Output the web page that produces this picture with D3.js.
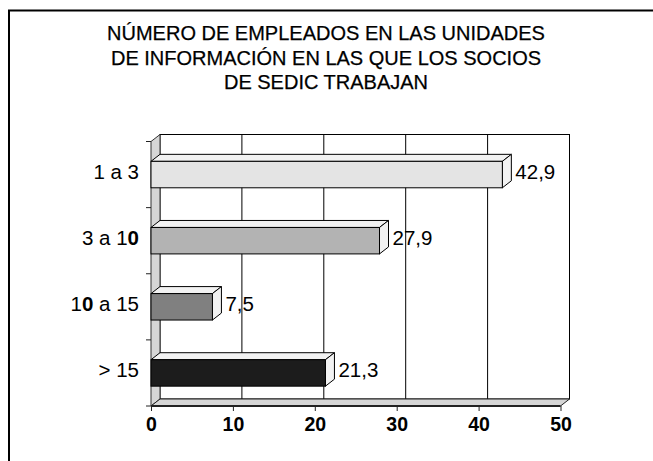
<!DOCTYPE html>
<html>
<head>
<meta charset="utf-8">
<script src="https://cdn.jsdelivr.net/npm/d3@7"></script>
<style>
  body { margin: 0; background: #fff; }
  svg { display: block; font-family: "Liberation Sans", Arial, sans-serif; }
</style>
</head>
<body>
<script>
const titleLines = [
  'NÚMERO DE EMPLEADOS EN LAS UNIDADES',
  'DE INFORMACIÓN EN LAS QUE LOS SOCIOS',
  'DE SEDIC TRABAJAN'
];
const categories = ['1 a 3', '3 a 10', '10 a 15', '> 15'];
const values = [42.9, 27.9, 7.5, 21.3];
const valueLabels = ['42,9', '27,9', '7,5', '21,3'];
const barColors = ['#e4e4e4', '#b3b3b3', '#808080', '#1c1c1c'];
const xTicks = [0, 10, 20, 30, 40, 50];

const W = 653, H = 461;
const depth = { dx: 9, dy: -7 };
const plot = { left: 151, right: 560.5, top: 141.5, bottom: 406 };

const svg = d3.select('body').append('svg')
  .attr('width', W)
  .attr('height', H);

// outer frame (runs off the right and bottom)
svg.append('rect')
  .attr('x', 9).attr('y', 10.5)
  .attr('width', 700).attr('height', 500)
  .attr('fill', 'none')
  .attr('stroke', '#000')
  .attr('stroke-width', 2);

// title
svg.append('g').selectAll('text')
  .data(titleLines)
  .join('text')
  .attr('x', 326)
  .attr('y', (d, i) => 40 + i * 24.5)
  .attr('text-anchor', 'middle')
  .attr('font-size', 20)
  .attr('fill', '#000')
  .attr('stroke', '#000')
  .attr('stroke-width', 0.25)
  .text(d => d);

// scales
const x = d3.scaleLinear()
  .domain([0, 50])
  .range([plot.left, plot.right]);

const y = d3.scaleBand()
  .domain(categories)
  .range([plot.top, plot.bottom])
  .paddingInner(0.6)
  .paddingOuter(0.3);

const bx = plot.left + depth.dx, ty = plot.top + depth.dy, by = plot.bottom + depth.dy;

// back wall
svg.append('rect')
  .attr('x', bx).attr('y', ty)
  .attr('width', x(50) - plot.left).attr('height', plot.bottom - plot.top)
  .attr('fill', '#fff')
  .attr('stroke', '#000')
  .attr('stroke-width', 1);

// gridlines on back wall
svg.append('g').selectAll('line')
  .data(xTicks.slice(1, -1))
  .join('line')
  .attr('x1', d => x(d) + depth.dx).attr('x2', d => x(d) + depth.dx)
  .attr('y1', ty).attr('y2', by)
  .attr('stroke', '#000')
  .attr('stroke-width', 1);

// left side wall
svg.append('polygon')
  .attr('points', [
    [plot.left, plot.top], [bx, ty], [bx, by], [plot.left, plot.bottom]
  ].join(' '))
  .attr('fill', '#d6d6d6')
  .attr('stroke', '#333')
  .attr('stroke-width', 1);

// floor
svg.append('polygon')
  .attr('points', [
    [plot.left, plot.bottom], [bx, by], [x(50) + depth.dx, by], [x(50), plot.bottom]
  ].join(' '))
  .attr('fill', '#d6d6d6')
  .attr('stroke', '#222')
  .attr('stroke-width', 1);

svg.append('line')
  .attr('x1', plot.left).attr('x2', x(50))
  .attr('y1', plot.bottom).attr('y2', plot.bottom)
  .attr('stroke', '#222')
  .attr('stroke-width', 2);

// left ticks at band boundaries
const step = y.step();
const bounds = categories.map((c, i) => i === 0 ? plot.top : y(c) - y.paddingInner() * step / 2);
bounds.push(plot.bottom);
svg.append('g').selectAll('line')
  .data(bounds)
  .join('line')
  .attr('x1', plot.left - 5).attr('x2', plot.left)
  .attr('y1', d => d).attr('y2', d => d)
  .attr('stroke', '#222');

// bars
const bars = svg.append('g').selectAll('g')
  .data(categories.map((c, i) => ({ c, v: values[i], col: barColors[i], lab: valueLabels[i] })))
  .join('g');

bars.append('polygon') // top face
  .attr('points', d => {
    const t = y(d.c), r = x(d.v);
    return [[plot.left, t], [bx, t + depth.dy], [r + depth.dx, t + depth.dy], [r, t]].join(' ');
  })
  .attr('fill', '#f2f2f2')
  .attr('stroke', '#000')
  .attr('stroke-linejoin', 'round');

bars.append('polygon') // side face
  .attr('points', d => {
    const t = y(d.c), b = t + y.bandwidth(), r = x(d.v);
    return [[r, t], [r + depth.dx, t + depth.dy], [r + depth.dx, b + depth.dy], [r, b]].join(' ');
  })
  .attr('fill', '#f2f2f2')
  .attr('stroke', '#000')
  .attr('stroke-linejoin', 'round');

bars.append('rect') // front face
  .attr('x', plot.left)
  .attr('y', d => y(d.c))
  .attr('width', d => x(d.v) - plot.left)
  .attr('height', y.bandwidth())
  .attr('fill', d => d.col)
  .attr('stroke', '#000');

bars.append('text')
  .attr('x', d => x(d.v) + depth.dx + 4)
  .attr('y', d => y(d.c) + y.bandwidth() / 2 + 4.5)
  .attr('font-size', 20.5)
  .attr('fill', '#000')
  .text(d => d.lab);

// category labels (zeros print bold in the original)
const catText = svg.append('g').selectAll('text')
  .data(categories)
  .join('text')
  .attr('x', 139)
  .attr('y', d => y(d) + y.bandwidth() / 2 + 4.5)
  .attr('text-anchor', 'end')
  .attr('font-size', 20.5)
  .attr('fill', '#000');

catText.selectAll('tspan')
  .data(d => d.split(/(0)/).filter(s => s !== ''))
  .join('tspan')
  .attr('font-weight', s => s === '0' ? 'bold' : null)
  .text(s => s);

// x axis
const xAxis = svg.append('g')
  .attr('transform', `translate(0,${plot.bottom})`)
  .call(d3.axisBottom(x).tickValues(xTicks).tickSize(5).tickPadding(6).tickFormat(d3.format('d')));

xAxis.select('.domain').remove();
xAxis.selectAll('line').attr('stroke', '#222');
xAxis.selectAll('text')
  .attr('font-family', '"Liberation Sans", Arial, sans-serif')
  .attr('font-size', 19.5)
  .attr('font-weight', 'bold')
  .attr('fill', '#000');
</script>
</body>
</html>
